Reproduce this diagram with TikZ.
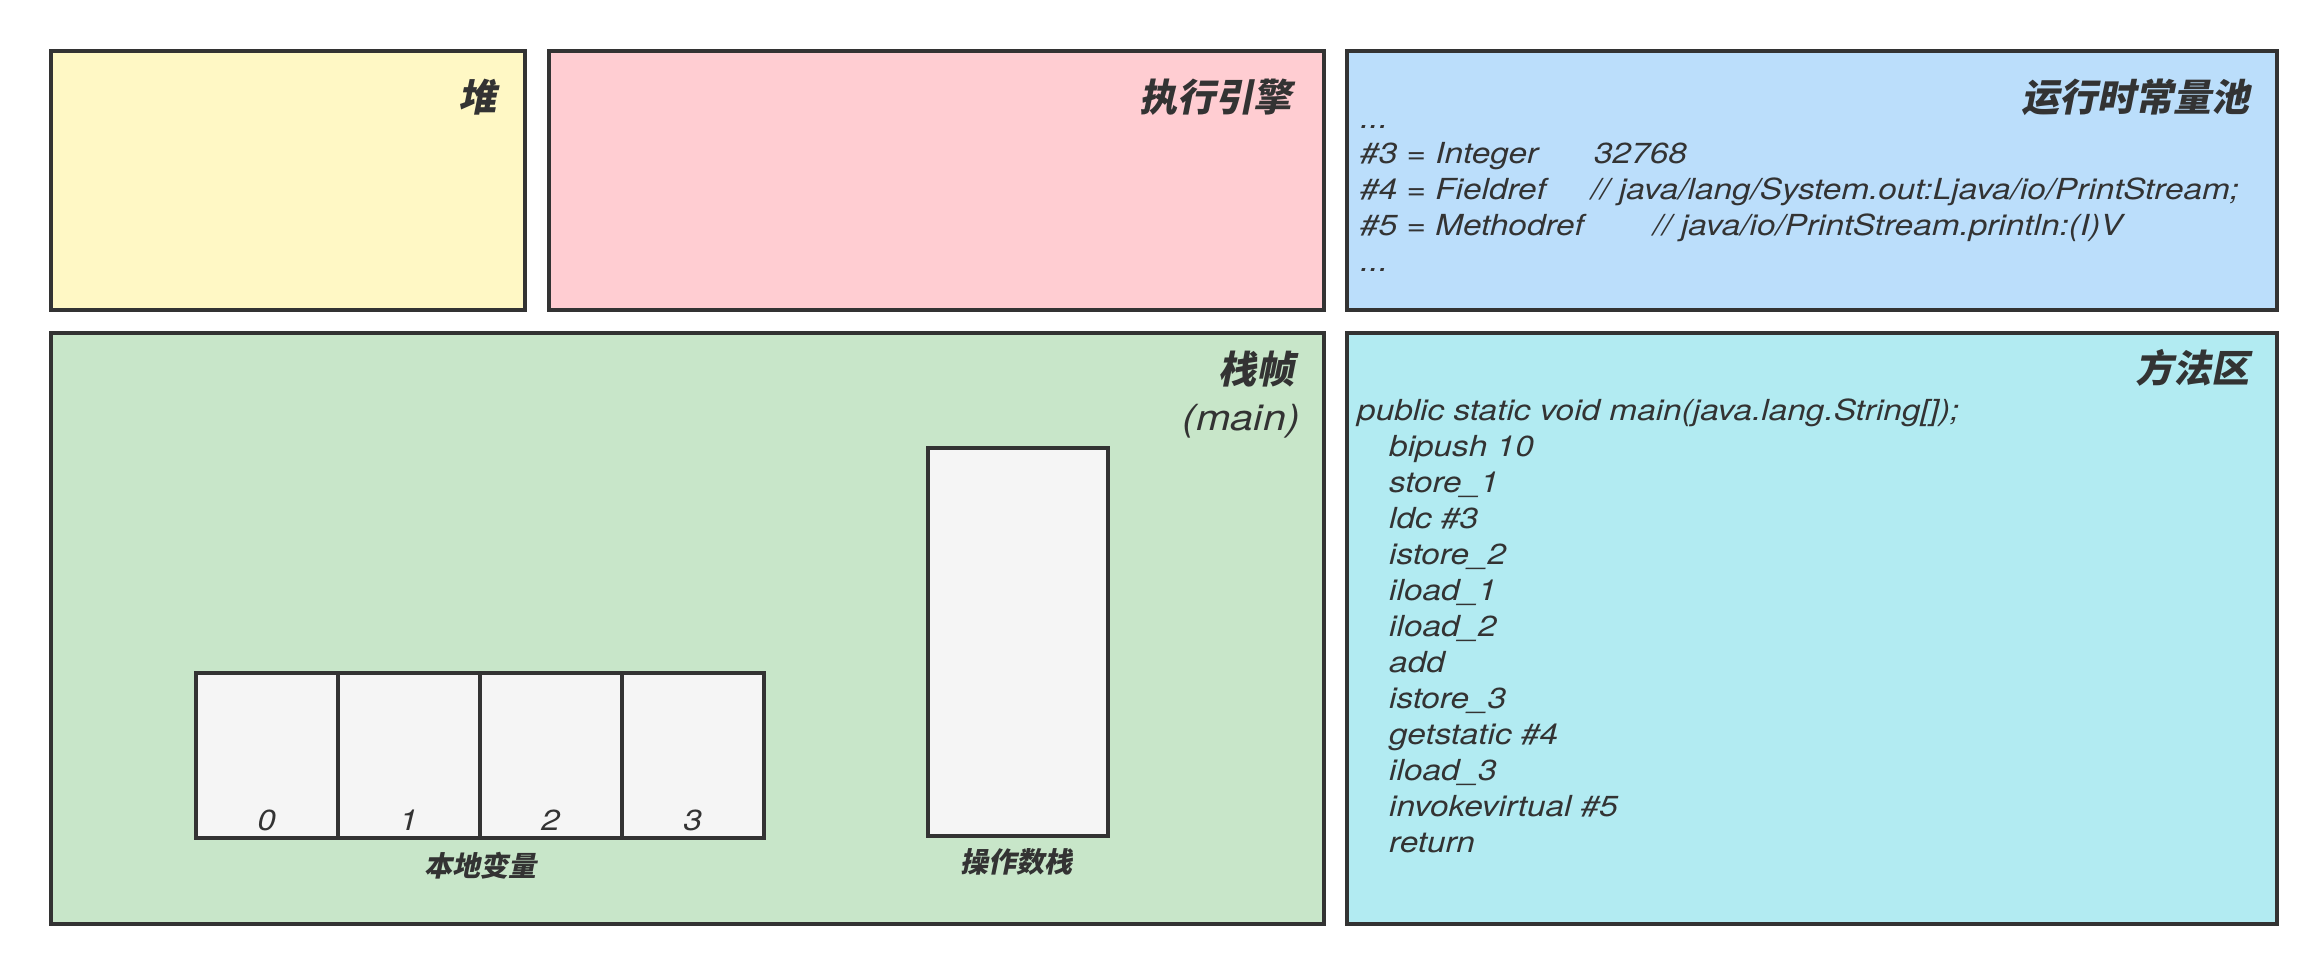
\documentclass[tikz,border=0pt]{standalone}
\usepackage{fontspec}
\setmainfont{TeX Gyre Heros}[FakeStretch=1.15]
\newfontfamily\cjk[FakeSlant=0.2]{Noto Sans CJK SC}
\usetikzlibrary{positioning}

\definecolor{heapfill}{HTML}{FFF8C5}
\definecolor{enginefill}{HTML}{FFCDD2}
\definecolor{poolfill}{HTML}{BBDEFB}
\definecolor{framefill}{HTML}{C8E6C9}
\definecolor{methodfill}{HTML}{B2EBF2}
\definecolor{slotfill}{HTML}{F5F5F5}
\definecolor{ink}{HTML}{333333}

\tikzset{
  panel/.style={draw=ink, line width=3.5pt, inner sep=0pt},
  slot/.style={draw=ink, line width=3.5pt, fill=slotfill, inner sep=0pt},
  title/.style={font=\fontsize{38}{40}\selectfont\cjk\bfseries, text=ink, inner sep=0pt},
  code/.style={font=\fontsize{29}{31}\selectfont\itshape, text=ink, inner sep=0pt},
  label/.style={font=\fontsize{28}{30}\selectfont\cjk\bfseries, text=ink, inner sep=0pt},
}

\begin{document}
\begin{tikzpicture}[x=1pt, y=-1pt]
  \useasboundingbox[fill=white] (0,0) rectangle (2324,972);

  % areas
  \node[panel, fill=heapfill, minimum width=474, minimum height=259, anchor=north west] (heap) at (49,49) {};
  \node[panel, fill=enginefill, minimum width=775, minimum height=259, anchor=north west] (engine) at (547,49) {};
  \node[panel, fill=poolfill, minimum width=930, minimum height=259, anchor=north west] (pool) at (1345,49) {};
  \node[panel, fill=framefill, minimum width=1273, minimum height=591, anchor=north west] (frame) at (49,331) {};
  \node[panel, fill=methodfill, minimum width=930, minimum height=591, anchor=north west] (method) at (1345,331) {};

  % titles
  \node[title, anchor=east] (heaptitle) at (497,97) {堆};
  \node[title, anchor=east] (enginetitle) at (1292,97) {执行引擎};
  \node[title, anchor=east] (pooltitle) at (2250,97) {运行时常量池};
  \node[title, anchor=east] (frametitle) at (1295,369) {栈帧};
  \node[code, font=\fontsize{36}{40}\selectfont\itshape, anchor=east] (framemain) at (1300,421) {(main)};
  \node[title, anchor=east] (methodtitle) at (2250,368) {方法区};

  % constant pool entries
  \node[code, anchor=base west] (pool0) at (1360,128) {...};
  \node[code, anchor=base west] (pool1) at (1360,163) {\makebox[234pt][l]{\#3 = Integer}32768};
  \node[code, anchor=base west] (pool2) at (1360,199) {\makebox[231pt][l]{\#4 = Fieldref}// java/lang/System.out:Ljava/io/PrintStream;};
  \node[code, anchor=base west] (pool3) at (1360,235) {\makebox[293pt][l]{\#5 = Methodref}// java/io/PrintStream.println:(I)V};
  \node[code, anchor=base west] (pool4) at (1360,271) {...};

  % bytecode of main
  \node[code, anchor=base west] (sig) at (1357,420) {public static void main(java.lang.String[]);};
  \foreach \op [count=\i] in {bipush 10, store\_1, ldc \#3, istore\_2, iload\_1, iload\_2,
      add, istore\_3, getstatic \#4, iload\_3, invokevirtual \#5, return}
    \node[code, anchor=base west] (op\i) at (1389,{420+36.06*\i}) {\op};

  % local variables
  \foreach \i in {0,...,3} {
    \node[slot, minimum width=142, minimum height=165, anchor=north west] (slot\i) at ({194+142*\i},671) {};
    \node[code, anchor=base] (idx\i) at ([yshift=9pt]slot\i.south) {\i};
  }
  \node[label] (locals) at (480,866) {本地变量};

  % operand stack
  \node[slot, minimum width=180, minimum height=388, anchor=north west] (operand) at (926,446) {};
  \node[label] (operandlbl) at (1016,862) {操作数栈};
\end{tikzpicture}
\end{document}
